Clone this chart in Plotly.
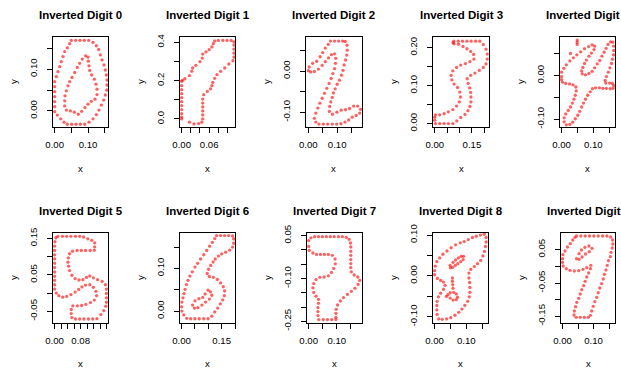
import plotly.graph_objects as go

W, H = 621, 373

# ---------------- data ----------------
digit0_x = [
    0.050, 0.063, 0.076, 0.089, 0.102, 0.115, 0.125, 0.132, 0.137, 0.142,
    0.148, 0.152, 0.155, 0.157, 0.157, 0.156, 0.152, 0.147, 0.140, 0.133,
    0.125, 0.115, 0.103, 0.090, 0.077, 0.064, 0.051, 0.038, 0.028, 0.018,
    0.008, 0.000, 0.000, 0.000, 0.000, 0.000, 0.000, 0.000, 0.005, 0.010,
    0.015, 0.020, 0.025, 0.030, 0.038, 0.045,
    0.093, 0.083, 0.075, 0.068, 0.060, 0.052, 0.045, 0.040, 0.035, 0.031,
    0.030, 0.030, 0.035, 0.047, 0.059, 0.071, 0.081, 0.091, 0.100, 0.110,
    0.121, 0.127, 0.127, 0.124, 0.119, 0.111, 0.105, 0.103, 0.101, 0.100]
digit0_y = [
    0.169, 0.169, 0.169, 0.169, 0.169, 0.164, 0.156, 0.147, 0.134, 0.122,
    0.110, 0.098, 0.086, 0.074, 0.062, 0.050, 0.038, 0.026, 0.014, 0.002,
    -0.009, -0.019, -0.027, -0.032, -0.032, -0.032, -0.032, -0.032, -0.027, -0.019,
    -0.010, -0.002, 0.010, 0.022, 0.034, 0.046, 0.058, 0.070, 0.082, 0.094,
    0.106, 0.118, 0.130, 0.142, 0.151, 0.161,
    0.132, 0.124, 0.114, 0.104, 0.092, 0.080, 0.070, 0.060, 0.048, 0.036,
    0.024, 0.012, 0.002, 0.000, -0.003, -0.008, -0.001, 0.008, 0.016, 0.023,
    0.028, 0.039, 0.052, 0.064, 0.076, 0.086, 0.097, 0.108, 0.119, 0.129]

digit1_x = [
    0.000, 0.000, 0.000, 0.000, 0.000, 0.000, 0.000, 0.000, 0.000, 0.000, 0.000,
    0.017, 0.027, 0.037, 0.044,
    0.046, 0.046, 0.046, 0.046, 0.046, 0.046,
    0.048, 0.056, 0.063, 0.066, 0.068, 0.072, 0.077, 0.085, 0.094, 0.103, 0.112,
    0.114, 0.114, 0.114, 0.114, 0.114,
    0.108, 0.099, 0.090, 0.080, 0.072,
    0.069, 0.066, 0.060, 0.053, 0.046, 0.045, 0.040, 0.031, 0.024, 0.022, 0.017, 0.007, 0.002]
digit1_y = [
    0.197, 0.174, 0.153, 0.132, 0.111, 0.090, 0.070, 0.049, 0.028, 0.010, 0.000,
    -0.017, -0.026, -0.024, -0.017,
    0.000, 0.021, 0.042, 0.063, 0.083, 0.104,
    0.127, 0.144, 0.157, 0.174, 0.191, 0.212, 0.231, 0.249, 0.266, 0.287, 0.304,
    0.323, 0.344, 0.365, 0.386, 0.403,
    0.410, 0.410, 0.410, 0.410, 0.407,
    0.393, 0.376, 0.362, 0.350, 0.339, 0.318, 0.299, 0.280, 0.266, 0.249, 0.226, 0.210, 0.202]

digit2_x = [
    0.000, 0.003, 0.015, 0.029, 0.041, 0.050, 0.059, 0.069, 0.077,
    0.091, 0.105, 0.119, 0.128,
    0.134, 0.135, 0.133, 0.129, 0.124, 0.120, 0.115, 0.108, 0.100, 0.093, 0.087, 0.083, 0.078, 0.074, 0.073,
    0.084, 0.099, 0.114, 0.129, 0.143, 0.157, 0.171, 0.181, 0.178, 0.166, 0.152, 0.140, 0.127, 0.113,
    0.098, 0.083, 0.067, 0.052, 0.037, 0.026, 0.021,
    0.026, 0.033, 0.040, 0.048, 0.056, 0.064, 0.072, 0.079, 0.085, 0.091, 0.094, 0.095, 0.091,
    0.080, 0.070, 0.059, 0.048, 0.035, 0.021, 0.008]
digit2_y = [
    0.001, 0.010, 0.019, 0.024, 0.035, 0.045, 0.056, 0.065, 0.073,
    0.073, 0.073, 0.073, 0.072,
    0.063, 0.051, 0.039, 0.027, 0.015, 0.002, -0.010, -0.022, -0.032, -0.043, -0.053, -0.064, -0.075, -0.086, -0.098,
    -0.105, -0.100, -0.095, -0.094, -0.091, -0.085, -0.085, -0.093, -0.102, -0.108, -0.112, -0.119, -0.124, -0.128,
    -0.129, -0.129, -0.129, -0.129, -0.129, -0.124, -0.115,
    -0.102, -0.090, -0.078, -0.066, -0.054, -0.042, -0.030, -0.018, -0.006, 0.006, 0.019, 0.031, 0.042,
    0.040, 0.032, 0.023, 0.014, 0.005, -0.001, -0.002]

digit3_x = [
    0.077, 0.095, 0.112, 0.130, 0.147, 0.165, 0.182,
    0.196, 0.207, 0.212, 0.212, 0.207, 0.196, 0.180, 0.162, 0.145, 0.131,
    0.135, 0.141, 0.145, 0.146, 0.146, 0.142, 0.134, 0.122, 0.105, 0.089, 0.073,
    0.055, 0.038, 0.020, 0.003,
    0.000, 0.000,
    0.003, 0.020, 0.038, 0.055, 0.073, 0.088, 0.099, 0.104, 0.101, 0.092,
    0.078, 0.069, 0.066, 0.073, 0.088, 0.105, 0.124, 0.142, 0.158, 0.157,
    0.145, 0.130, 0.114, 0.096, 0.078, 0.074]
digit3_y = [
    0.217, 0.217, 0.217, 0.217, 0.217, 0.217, 0.217,
    0.208, 0.196, 0.183, 0.170, 0.157, 0.148, 0.140, 0.133, 0.127, 0.118,
    0.106, 0.094, 0.082, 0.070, 0.057, 0.045, 0.034, 0.024, 0.016, 0.007, 0.000,
    0.000, 0.000, 0.000, 0.000,
    0.009, 0.017,
    0.023, 0.023, 0.026, 0.031, 0.037, 0.046, 0.057, 0.070, 0.083, 0.095,
    0.104, 0.115, 0.127, 0.139, 0.148, 0.154, 0.158, 0.163, 0.170, 0.182,
    0.190, 0.197, 0.203, 0.209, 0.210, 0.213]

digit4_x = [
    0.000, 0.000, 0.007, 0.015, 0.026, 0.037, 0.048, 0.060, 0.072, 0.085, 0.096, 0.104,
    0.102, 0.094, 0.086, 0.078, 0.072, 0.067, 0.063, 0.065,
    0.075, 0.086,
    0.096, 0.104, 0.112, 0.120, 0.127, 0.134, 0.140, 0.146, 0.154,
    0.161, 0.164, 0.164, 0.163, 0.160, 0.157, 0.152, 0.147, 0.141, 0.137, 0.139,
    0.151, 0.160,
    0.164, 0.162,
    0.153, 0.141, 0.130, 0.119, 0.107, 0.097,
    0.090, 0.082, 0.075, 0.069, 0.063, 0.057, 0.051, 0.043, 0.035, 0.026, 0.015,
    0.008, 0.008,
    0.013, 0.021, 0.028, 0.034, 0.039, 0.043, 0.046, 0.045, 0.036, 0.025, 0.013, 0.003, 0.000,
    0.049, 0.049, 0.049, 0.028]
digit4_y = [
    -0.002, 0.008, 0.017, 0.025, 0.034, 0.041, 0.048, 0.055, 0.062, 0.067, 0.071, 0.068,
    0.060, 0.052, 0.045, 0.036, 0.028, 0.019, 0.011, 0.004,
    0.002, 0.005,
    0.010, 0.018, 0.027, 0.035, 0.045, 0.054, 0.063, 0.072, 0.078,
    0.077, 0.068, 0.058, 0.048, 0.038, 0.028, 0.018, 0.008, -0.002, -0.011, -0.017,
    -0.017, -0.018,
    -0.023, -0.029,
    -0.030, -0.029, -0.029, -0.028, -0.028, -0.030,
    -0.037, -0.045, -0.054, -0.063, -0.072, -0.082, -0.091, -0.099, -0.107, -0.112, -0.113,
    -0.106, -0.097,
    -0.088, -0.080, -0.072, -0.063, -0.054, -0.045, -0.035, -0.026, -0.021, -0.019, -0.018, -0.015, -0.009,
    0.082, 0.077, 0.072, 0.051]

digit5_x = [
    0.010, 0.024, 0.037, 0.050, 0.064, 0.077, 0.089, 0.102, 0.114, 0.123,
    0.123, 0.122, 0.109, 0.095, 0.082, 0.069, 0.055, 0.046, 0.042, 0.041,
    0.043, 0.046, 0.053, 0.063, 0.075, 0.087, 0.098, 0.108, 0.119, 0.132,
    0.146, 0.156, 0.159, 0.159, 0.159, 0.159, 0.157, 0.151, 0.142, 0.130,
    0.117, 0.104, 0.090, 0.077, 0.064, 0.053, 0.051, 0.051, 0.056, 0.070,
    0.083, 0.096, 0.110, 0.122, 0.129, 0.127, 0.119, 0.108, 0.095, 0.084,
    0.074, 0.063, 0.050, 0.037, 0.025, 0.013, 0.005, 0.000, 0.000, 0.000,
    0.000, 0.000, 0.000, 0.000, 0.000, 0.000, 0.000, 0.000, 0.001, 0.004]
digit5_y = [
    0.156, 0.156, 0.156, 0.156, 0.156, 0.156, 0.154, 0.149, 0.145, 0.138,
    0.127, 0.118, 0.117, 0.117, 0.117, 0.117, 0.115, 0.108, 0.097, 0.085,
    0.074, 0.062, 0.049, 0.040, 0.036, 0.037, 0.043, 0.047, 0.042, 0.037,
    0.032, 0.023, 0.011, -0.001, -0.013, -0.025, -0.036, -0.048, -0.059, -0.070,
    -0.071, -0.071, -0.071, -0.071, -0.071, -0.067, -0.056, -0.045, -0.035, -0.035,
    -0.034, -0.031, -0.026, -0.019, -0.007, 0.005, 0.016, 0.023, 0.022, 0.017,
    0.010, 0.003, -0.004, -0.009, -0.011, -0.007, 0.000, 0.011, 0.023, 0.035,
    0.046, 0.058, 0.070, 0.082, 0.094, 0.105, 0.117, 0.129, 0.141, 0.152]

digit6_x = [
    0.131, 0.146, 0.161, 0.176, 0.191, 0.195, 0.195, 0.191, 0.180, 0.165,
    0.150, 0.138, 0.126, 0.118, 0.109, 0.101, 0.096, 0.104, 0.119, 0.134,
    0.146, 0.156, 0.161, 0.160, 0.154, 0.145, 0.135, 0.124, 0.113, 0.099,
    0.083, 0.066, 0.050, 0.034, 0.019, 0.008, 0.001, 0.000, 0.001, 0.005,
    0.009, 0.013, 0.018, 0.024, 0.031, 0.040, 0.050, 0.060, 0.071, 0.083,
    0.094, 0.105, 0.115, 0.124,
    0.099, 0.108, 0.113, 0.104, 0.090, 0.076, 0.061, 0.048, 0.041, 0.050,
    0.065, 0.079, 0.088]
digit6_y = [
    0.177, 0.177, 0.177, 0.177, 0.176, 0.169, 0.159, 0.150, 0.143, 0.138,
    0.134, 0.129, 0.122, 0.115, 0.107, 0.098, 0.088, 0.081, 0.079, 0.074,
    0.066, 0.057, 0.047, 0.036, 0.026, 0.017, 0.007, -0.002, -0.012, -0.018,
    -0.018, -0.018, -0.018, -0.018, -0.017, -0.009, 0.000, 0.010, 0.021, 0.031,
    0.041, 0.051, 0.062, 0.072, 0.082, 0.092, 0.103, 0.112, 0.122, 0.132,
    0.142, 0.152, 0.161, 0.170,
    0.049, 0.045, 0.037, 0.028, 0.021, 0.014, 0.008, 0.007, 0.014, 0.024,
    0.029, 0.032, 0.040]

digit7_x = [
    0.000, 0.008, 0.021, 0.035, 0.049, 0.063, 0.077, 0.091, 0.106, 0.120,
    0.134, 0.144, 0.149, 0.150, 0.150, 0.150, 0.150, 0.150, 0.150, 0.152,
    0.162, 0.175, 0.182, 0.176, 0.165, 0.152, 0.138, 0.124, 0.113, 0.103,
    0.098, 0.097, 0.097, 0.097, 0.082, 0.067, 0.052, 0.036, 0.033, 0.033,
    0.033, 0.035, 0.035, 0.026, 0.018, 0.015, 0.018, 0.026, 0.040, 0.055,
    0.070, 0.081, 0.089, 0.095, 0.094, 0.084, 0.070, 0.056, 0.042, 0.028,
    0.015, 0.002, 0.000]
digit7_y = [
    0.032, 0.042, 0.046, 0.046, 0.046, 0.046, 0.046, 0.046, 0.046, 0.046,
    0.044, 0.037, 0.024, 0.010, -0.005, -0.019, -0.034, -0.048, -0.062, -0.077,
    -0.088, -0.095, -0.107, -0.121, -0.134, -0.145, -0.156, -0.167, -0.179, -0.193,
    -0.208, -0.222, -0.236, -0.244, -0.244, -0.244, -0.244, -0.244, -0.230, -0.216,
    -0.202, -0.187, -0.173, -0.162, -0.149, -0.133, -0.118, -0.104, -0.096, -0.095,
    -0.091, -0.079, -0.065, -0.049, -0.032, -0.019, -0.016, -0.016, -0.016, -0.016,
    -0.011, -0.002, 0.012]

digit8_x = [
    0.000, 0.000, 0.002, 0.007, 0.016, 0.026, 0.039, 0.052, 0.066, 0.081,
    0.093, 0.106, 0.119, 0.131, 0.144, 0.156, 0.162, 0.162, 0.160, 0.157,
    0.152, 0.145, 0.135, 0.125, 0.114, 0.108, 0.108, 0.110, 0.111, 0.111,
    0.109, 0.104, 0.095, 0.086, 0.076, 0.064, 0.051, 0.038, 0.024, 0.013,
    0.008, 0.007, 0.007, 0.008, 0.012, 0.019, 0.028, 0.033, 0.028, 0.019,
    0.009,
    0.049, 0.058, 0.066, 0.075, 0.084, 0.091, 0.090, 0.082, 0.073, 0.065, 0.057, 0.050,
    0.056, 0.056, 0.057, 0.058,
    0.042, 0.049, 0.060, 0.068, 0.072, 0.068, 0.058, 0.049, 0.037]
digit8_y = [
    0.003, 0.013, 0.024, 0.035, 0.044, 0.053, 0.061, 0.069, 0.076, 0.081,
    0.084, 0.089, 0.094, 0.097, 0.100, 0.102, 0.094, 0.083, 0.072, 0.060,
    0.049, 0.038, 0.030, 0.023, 0.016, 0.007, -0.005, -0.016, -0.028, -0.040,
    -0.051, -0.062, -0.072, -0.081, -0.089, -0.096, -0.102, -0.105, -0.106, -0.105,
    -0.094, -0.083, -0.072, -0.062, -0.051, -0.042, -0.033, -0.023, -0.015, -0.011,
    -0.006,
    0.026, 0.033, 0.039, 0.044, 0.048, 0.048, 0.040, 0.035, 0.030, 0.026, 0.021, 0.020,
    -0.005, -0.013, -0.021, -0.030,
    -0.046, -0.041, -0.040, -0.044, -0.052, -0.058, -0.059, -0.054, -0.050]

digit9_x = [
    0.045, 0.059, 0.073, 0.087, 0.101, 0.115, 0.129, 0.143, 0.155, 0.161,
    0.162, 0.160, 0.156, 0.154, 0.148, 0.144, 0.140, 0.135, 0.131, 0.126,
    0.120, 0.115, 0.110, 0.104, 0.099, 0.094, 0.090, 0.083, 0.070, 0.057,
    0.044, 0.037, 0.038, 0.042, 0.046, 0.052, 0.057, 0.062, 0.068, 0.073,
    0.078, 0.084, 0.090, 0.091, 0.078, 0.066, 0.052, 0.038, 0.024, 0.012,
    0.002, 0.000, 0.000, 0.001, 0.008, 0.016, 0.025, 0.033, 0.040,
    0.045, 0.053, 0.061, 0.072, 0.085, 0.095, 0.086, 0.074, 0.063, 0.053]
digit9_y = [
    0.091, 0.091, 0.091, 0.091, 0.091, 0.091, 0.091, 0.091, 0.088, 0.079,
    0.067, 0.055, 0.042, 0.029, 0.017, 0.003, -0.011, -0.024, -0.038, -0.052,
    -0.065, -0.079, -0.093, -0.106, -0.120, -0.134, -0.147, -0.153, -0.153, -0.153,
    -0.153, -0.146, -0.134, -0.121, -0.108, -0.096, -0.083, -0.070, -0.058, -0.045,
    -0.032, -0.020, -0.007, 0.003, -0.004, -0.009, -0.013, -0.014, -0.012, -0.007,
    0.001, 0.012, 0.023, 0.035, 0.046, 0.058, 0.068, 0.079, 0.087,
    0.023, 0.038, 0.049, 0.057, 0.061, 0.054, 0.044, 0.037, 0.028, 0.021]

digit_labels = ["0", "1", "2", "3", "4", "5", "6", "7", "8", "9"]

# tick values / labels per panel
x_tickvals = [
    [0.00, 0.05, 0.10, 0.15],
    [0.00, 0.02, 0.04, 0.06, 0.08, 0.10],
    [0.00, 0.05, 0.10, 0.15],
    [0.00, 0.05, 0.10, 0.15, 0.20],
    [0.00, 0.05, 0.10, 0.15],
    [0.00, 0.02, 0.04, 0.06, 0.08, 0.10, 0.12, 0.14, 0.16],
    [0.00, 0.05, 0.10, 0.15, 0.20],
    [0.00, 0.05, 0.10, 0.15],
    [0.00, 0.05, 0.10, 0.15],
    [0.00, 0.05, 0.10, 0.15]]
x_ticktext = [
    ["0.00", "", "0.10", ""],
    ["0.00", "", "", "0.06", "", ""],
    ["0.00", "", "0.10", ""],
    ["0.00", "", "", "0.15", ""],
    ["0.00", "", "0.10", ""],
    ["0.00", "", "", "", "0.08", "", "", "", ""],
    ["0.00", "", "", "0.15", ""],
    ["0.00", "", "0.10", ""],
    ["0.00", "", "0.10", ""],
    ["0.00", "", "0.10", ""]]
y_tickvals = [
    [0.00, 0.05, 0.10, 0.15],
    [0.0, 0.1, 0.2, 0.3, 0.4],
    [-0.10, -0.05, 0.00, 0.05],
    [0.00, 0.05, 0.10, 0.15, 0.20],
    [-0.10, -0.05, 0.00, 0.05],
    [-0.05, 0.00, 0.05, 0.10, 0.15],
    [0.00, 0.05, 0.10, 0.15],
    [-0.25, -0.20, -0.15, -0.10, -0.05, 0.00, 0.05],
    [-0.10, -0.05, 0.00, 0.05, 0.10],
    [-0.15, -0.10, -0.05, 0.00, 0.05]]
y_ticktext = [
    ["0.00", "", "0.10", ""],
    ["0.0", "", "0.2", "", "0.4"],
    ["-0.10", "", "0.00", ""],
    ["0.00", "", "0.10", "", "0.20"],
    ["-0.10", "", "0.00", ""],
    ["-0.05", "", "0.05", "", "0.15"],
    ["0.00", "", "0.10", ""],
    ["-0.25", "", "", "-0.10", "", "", "0.05"],
    ["-0.10", "", "0.00", "", "0.10"],
    ["-0.15", "", "-0.05", "", "0.05"]]

# ---------------- layout / style ----------------
xs = [digit0_x, digit1_x, digit2_x, digit3_x, digit4_x,
      digit5_x, digit6_x, digit7_x, digit8_x, digit9_x]
ys = [digit0_y, digit1_y, digit2_y, digit3_y, digit4_y,
      digit5_y, digit6_y, digit7_y, digit8_y, digit9_y]

x_ranges = [[-0.005, 0.160], [-0.0036, 0.1164], [-0.008, 0.186], [-0.007, 0.219], [-0.005, 0.168],
            [-0.005, 0.164], [-0.006, 0.200], [-0.006, 0.190], [-0.005, 0.168], [-0.005, 0.169]]
y_ranges = [[-0.0386, 0.177], [-0.042, 0.428], [-0.136, 0.083], [-0.009, 0.228], [-0.118, 0.089],
            [-0.082, 0.165], [-0.028, 0.183], [-0.256, 0.059], [-0.115, 0.105], [-0.170, 0.100]]

col_px = [[(53, 108), (180, 235), (306, 362), (433, 489), (560, 615)],
          [(53, 108), (180, 235), (307, 362), (433, 488), (561, 615)]]
row_px = [(37, 127), (233, 323)]
title_y = [15, 210.5]
xlab_y = [168, 363]

FONT = "Liberation Sans, Arial, Helvetica, sans-serif"
fig = go.Figure()
annotations = []
for i in range(10):
    r, c = divmod(i, 5)
    sfx = "" if i == 0 else str(i + 1)
    l, rr = col_px[r][c]
    t, b = row_px[r]
    fig.add_trace(go.Scatter(
        x=xs[i], y=ys[i], mode="markers",
        marker=dict(size=3.3, color="rgba(255,0,0,0.62)", line=dict(width=0)),
        xaxis="x" + sfx, yaxis="y" + sfx, showlegend=False, hoverinfo="skip"))
    common = dict(showline=True, mirror=True, linecolor="black", linewidth=1,
                  ticks="outside", ticklen=5, tickwidth=1, tickcolor="black",
                  showgrid=False, zeroline=False, fixedrange=True, automargin=False,
                  tickfont=dict(family=FONT, size=9.6, color="black"))
    fig.update_layout(**{
        "xaxis" + sfx: dict(domain=[l / W, rr / W], anchor="y" + sfx,
                            range=x_ranges[i], tickmode="array",
                            tickvals=x_tickvals[i], ticktext=x_ticktext[i],
                            ticklabelstandoff=3, **common),
        "yaxis" + sfx: dict(domain=[1 - b / H, 1 - t / H], anchor="x" + sfx,
                            range=y_ranges[i], tickmode="array",
                            tickvals=y_tickvals[i], ticktext=y_ticktext[i],
                            tickangle=-90, ticklabelstandoff=6, **common),
    })
    cx = (l + rr) / 2
    annotations.append(dict(text="<b>Inverted Digit " + digit_labels[i] + "</b>",
                            x=cx / W, y=1 - title_y[r] / H, xref="paper", yref="paper",
                            showarrow=False, xanchor="center", yanchor="middle",
                            font=dict(family=FONT, size=11.5, color="black")))
    annotations.append(dict(text="x", x=cx / W, y=1 - xlab_y[r] / H, xref="paper", yref="paper",
                            showarrow=False, xanchor="center", yanchor="middle",
                            font=dict(family=FONT, size=9.6, color="black")))
    annotations.append(dict(text="y", x=(l - 40) / W, y=1 - (t + b) / 2 / H,
                            xref="paper", yref="paper", textangle=-90,
                            showarrow=False, xanchor="center", yanchor="middle",
                            font=dict(family=FONT, size=9.6, color="black")))

fig.update_layout(width=W, height=H, margin=dict(l=0, r=0, t=0, b=0, pad=0, autoexpand=False),
                  paper_bgcolor="white", plot_bgcolor="white",
                  annotations=annotations)

fig.write_html("out.html")
